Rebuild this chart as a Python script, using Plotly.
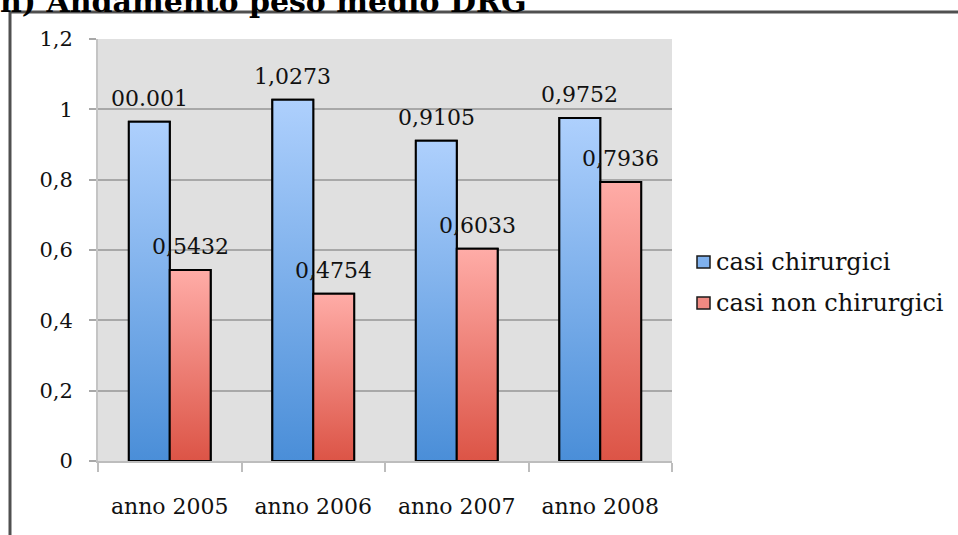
import plotly.graph_objects as go

# --- data -------------------------------------------------------------
anni = ["anno 2005", "anno 2006", "anno 2007", "anno 2008"]
serie = ["casi chirurgici", "casi non chirurgici"]
casi_chirurgici = [0.965, 1.0273, 0.9105, 0.9752]
casi_non_chirurgici = [0.5432, 0.4754, 0.6033, 0.7936]
etichette_chirurgici = ["00.001", "1,0273", "0,9105", "0,9752"]
etichette_non_chirurgici = ["0,5432", "0,4754", "0,6033", "0,7936"]
y_ticks = [0, 0.2, 0.4, 0.6, 0.8, 1.0, 1.2]
y_ticktext = ["0", "0,2", "0,4", "0,6", "0,8", "1", "1,2"]
titolo = "h) Andamento peso medio DRG"

# --- styling ----------------------------------------------------------
W, H = 958, 535
L, R, T, B = 98, 286, 39, 74
PW, PH = W - L - R, H - T - B
FONT = "DejaVu Serif"
BARGAP = 0.43
BW = (1 - BARGAP) / 2

colori = {
    "casi chirurgici": ("#4a8ed8", "#aed0fd", "#7fb1ee"),
    "casi non chirurgici": ("#dc5446", "#ffaca7", "#f08a82"),
}


def px_x(p):
    return (p - L) / PW


def px_y(p):
    return (H - B - p) / PH


fig = go.Figure()

valori = {serie[0]: casi_chirurgici, serie[1]: casi_non_chirurgici}
etichette = {serie[0]: etichette_chirurgici, serie[1]: etichette_non_chirurgici}
offset = {serie[0]: -BW / 2, serie[1]: BW / 2}

# base bars (solid) for the data series
for s in serie:
    bottom, top, mid = colori[s]
    fig.add_trace(go.Bar(
        x=list(range(len(anni))), y=valori[s], name=s,
        marker=dict(color=mid, line=dict(color="black", width=2)),
        showlegend=False,
    ))

# vertical gradient fill drawn over each bar
for s in serie:
    bottom, top, mid = colori[s]
    for j, v in enumerate(valori[s]):
        c = j + offset[s]
        x0, x1 = c - BW / 2, c + BW / 2
        fig.add_trace(go.Scatter(
            x=[x0, x1, x1, x0, x0], y=[0, 0, v, v, 0],
            mode="lines", fill="toself",
            fillgradient=dict(type="vertical",
                              colorscale=[[0, bottom], [1, top]]),
            line=dict(color="black", width=2),
            hoverinfo="skip", showlegend=False,
        ))
        fig.add_annotation(
            x=c, y=v, text=etichette[s][j], showarrow=False,
            xanchor="center", yanchor="bottom", yshift=9,
            font=dict(family=FONT, size=22, color="#111"),
        )

# legend drawn as swatches + text
for k, s in enumerate(serie):
    bottom, top, mid = colori[s]
    cy = 262 + 41 * k
    fig.add_shape(type="rect", xref="paper", yref="paper",
                  x0=px_x(697), x1=px_x(710), y0=px_y(cy + 6), y1=px_y(cy - 6),
                  fillcolor=mid, line=dict(color="#1a1a1a", width=1.5))
    fig.add_annotation(xref="paper", yref="paper", x=px_x(714), y=px_y(cy),
                       text=s, showarrow=False, xanchor="left", yanchor="middle",
                       font=dict(family=FONT, size=24, color="#111"))

# frame around the chart
fig.add_shape(type="line", xref="paper", yref="paper",
              x0=px_x(10), x1=px_x(W + 5), y0=px_y(12), y1=px_y(12),
              line=dict(color="#505050", width=3))
fig.add_shape(type="line", xref="paper", yref="paper",
              x0=px_x(10), x1=px_x(10), y0=px_y(12), y1=px_y(H + 5),
              line=dict(color="#505050", width=3))

# heading, partly above the page edge
fig.add_annotation(xref="paper", yref="paper", x=px_x(-2), y=px_y(21),
                   text="<b>" + titolo + "</b>", showarrow=False,
                   xanchor="left", yanchor="bottom",
                   font=dict(family=FONT, size=30, color="black"))

fig.update_layout(
    width=W, height=H,
    margin=dict(l=L, r=R, t=T, b=B, pad=0),
    paper_bgcolor="white", plot_bgcolor="#e0e0e0",
    barmode="group", bargap=BARGAP, bargroupgap=0,
    showlegend=False,
)
fig.update_xaxes(
    range=[-0.5, len(anni) - 0.5],
    tickvals=list(range(len(anni))), ticktext=anni, ticks="",
    tickfont=dict(family=FONT, size=22, color="#111"),
    ticklabelstandoff=25,
    showgrid=False, zeroline=False,
    showline=True, linecolor="#bdbdbd", linewidth=2,
    minor=dict(tickvals=[j - 0.5 for j in range(len(anni) + 1)],
               ticks="outside", ticklen=9, tickwidth=2, tickcolor="#bdbdbd",
               showgrid=False),
)
fig.update_yaxes(
    range=[0, 1.2], tickvals=y_ticks, ticktext=y_ticktext,
    ticks="outside", ticklen=7, tickwidth=2, tickcolor="#a8a8a8",
    tickfont=dict(family=FONT, size=21, color="#111"),
    ticklabelstandoff=12,
    showgrid=True, gridcolor="#a8a8a8", gridwidth=2,
    zeroline=False, showline=True, linecolor="#c4c4c4", linewidth=2,
)

fig.write_html("out.html")
